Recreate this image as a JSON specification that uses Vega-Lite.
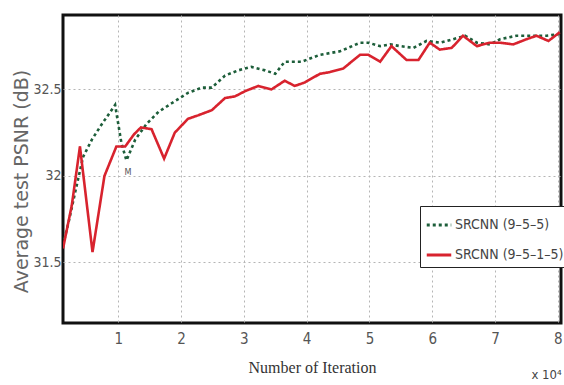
{
  "$schema": "https://vega.github.io/schema/vega-lite/v6.json",
  "width": 498,
  "height": 308,
  "autosize": {"type": "none"},
  "padding": {"left": 63, "top": 15, "right": 3, "bottom": 62},
  "background": "white",
  "config": {
    "view": {"stroke": "#111", "strokeWidth": 3},
    "legend": {
      "orient": "none",
      "legendX": 357,
      "legendY": 191,
      "strokeColor": "#222",
      "fillColor": "white",
      "padding": 5,
      "symbolType": "stroke",
      "symbolSize": 600,
      "symbolStrokeWidth": 3,
      "labelFont": "DejaVu Sans Condensed",
      "labelFontSize": 14,
      "labelColor": "#444",
      "labelOffset": 2,
      "rowPadding": 9,
      "labelLimit": 200
    }
  },
  "encoding": {
    "x": {
      "field": "x",
      "type": "quantitative",
      "scale": {"domain": [0.12, 8.05], "nice": false, "zero": false},
      "axis": {
        "title": "Number of Iteration",
        "values": [1, 2, 3, 4, 5, 6, 7, 8],
        "format": "d",
        "grid": true,
        "gridColor": "#b5b5b5",
        "gridDash": [2, 3],
        "gridWidth": 1,
        "ticks": false,
        "domain": false,
        "labelFont": "DejaVu Sans Condensed",
        "labelFontSize": 15,
        "labelColor": "#555",
        "labelPadding": 8,
        "titleFont": "Liberation Serif",
        "titleFontSize": 16,
        "titleFontWeight": "normal",
        "titleColor": "#333",
        "titleBaseline": "middle",
        "titleY": 44
      }
    },
    "y": {
      "field": "y",
      "type": "quantitative",
      "scale": {"domain": [31.15, 32.93], "nice": false, "zero": false},
      "axis": {
        "title": "Average test PSNR (dB)",
        "values": [31.5, 32, 32.5],
        "format": "~g",
        "grid": true,
        "gridColor": "#b5b5b5",
        "gridDash": [2, 3],
        "gridWidth": 1,
        "ticks": false,
        "domain": false,
        "labelFont": "DejaVu Sans Condensed",
        "labelFontSize": 14,
        "labelColor": "#555",
        "labelPadding": 2,
        "titleFont": "DejaVu Sans",
        "titleFontSize": 19,
        "titleFontWeight": "normal",
        "titleColor": "#666",
        "titleBaseline": "middle",
        "titleX": -42,
        "titleY": 166
      }
    }
  },
  "layer": [
    {
      "data": {
        "values": [
          {"series": "SRCNN (9–5–5)", "x": 0.12, "y": 31.6},
          {"series": "SRCNN (9–5–5)", "x": 0.22, "y": 31.75},
          {"series": "SRCNN (9–5–5)", "x": 0.31, "y": 31.9},
          {"series": "SRCNN (9–5–5)", "x": 0.44, "y": 32.11},
          {"series": "SRCNN (9–5–5)", "x": 0.58, "y": 32.21},
          {"series": "SRCNN (9–5–5)", "x": 0.74, "y": 32.3},
          {"series": "SRCNN (9–5–5)", "x": 0.95, "y": 32.41},
          {"series": "SRCNN (9–5–5)", "x": 1.05, "y": 32.19},
          {"series": "SRCNN (9–5–5)", "x": 1.13, "y": 32.09},
          {"series": "SRCNN (9–5–5)", "x": 1.27, "y": 32.21},
          {"series": "SRCNN (9–5–5)", "x": 1.45, "y": 32.3},
          {"series": "SRCNN (9–5–5)", "x": 1.64, "y": 32.37},
          {"series": "SRCNN (9–5–5)", "x": 1.85, "y": 32.42},
          {"series": "SRCNN (9–5–5)", "x": 2.11, "y": 32.48},
          {"series": "SRCNN (9–5–5)", "x": 2.33, "y": 32.51},
          {"series": "SRCNN (9–5–5)", "x": 2.49, "y": 32.51},
          {"series": "SRCNN (9–5–5)", "x": 2.7, "y": 32.58},
          {"series": "SRCNN (9–5–5)", "x": 2.91, "y": 32.61},
          {"series": "SRCNN (9–5–5)", "x": 3.12, "y": 32.63},
          {"series": "SRCNN (9–5–5)", "x": 3.34, "y": 32.61},
          {"series": "SRCNN (9–5–5)", "x": 3.5, "y": 32.59},
          {"series": "SRCNN (9–5–5)", "x": 3.65, "y": 32.66},
          {"series": "SRCNN (9–5–5)", "x": 3.92, "y": 32.66},
          {"series": "SRCNN (9–5–5)", "x": 4.21, "y": 32.7},
          {"series": "SRCNN (9–5–5)", "x": 4.53, "y": 32.72},
          {"series": "SRCNN (9–5–5)", "x": 4.85, "y": 32.77},
          {"series": "SRCNN (9–5–5)", "x": 4.98, "y": 32.77},
          {"series": "SRCNN (9–5–5)", "x": 5.17, "y": 32.75},
          {"series": "SRCNN (9–5–5)", "x": 5.33, "y": 32.76},
          {"series": "SRCNN (9–5–5)", "x": 5.49, "y": 32.75},
          {"series": "SRCNN (9–5–5)", "x": 5.7, "y": 32.74},
          {"series": "SRCNN (9–5–5)", "x": 5.91, "y": 32.78},
          {"series": "SRCNN (9–5–5)", "x": 6.12, "y": 32.77},
          {"series": "SRCNN (9–5–5)", "x": 6.33, "y": 32.79},
          {"series": "SRCNN (9–5–5)", "x": 6.52, "y": 32.81},
          {"series": "SRCNN (9–5–5)", "x": 6.71, "y": 32.77},
          {"series": "SRCNN (9–5–5)", "x": 6.92, "y": 32.76},
          {"series": "SRCNN (9–5–5)", "x": 7.08, "y": 32.79},
          {"series": "SRCNN (9–5–5)", "x": 7.34, "y": 32.81},
          {"series": "SRCNN (9–5–5)", "x": 7.61, "y": 32.81},
          {"series": "SRCNN (9–5–5)", "x": 7.82, "y": 32.81},
          {"series": "SRCNN (9–5–5)", "x": 8.03, "y": 32.82},
          {"series": "SRCNN (9–5–1–5)", "x": 0.12, "y": 31.58},
          {"series": "SRCNN (9–5–1–5)", "x": 0.26, "y": 31.83},
          {"series": "SRCNN (9–5–1–5)", "x": 0.39, "y": 32.17},
          {"series": "SRCNN (9–5–1–5)", "x": 0.59, "y": 31.56},
          {"series": "SRCNN (9–5–1–5)", "x": 0.78, "y": 32.0},
          {"series": "SRCNN (9–5–1–5)", "x": 0.97, "y": 32.17},
          {"series": "SRCNN (9–5–1–5)", "x": 1.11, "y": 32.17},
          {"series": "SRCNN (9–5–1–5)", "x": 1.25, "y": 32.24},
          {"series": "SRCNN (9–5–1–5)", "x": 1.36, "y": 32.28},
          {"series": "SRCNN (9–5–1–5)", "x": 1.53, "y": 32.27},
          {"series": "SRCNN (9–5–1–5)", "x": 1.73, "y": 32.1},
          {"series": "SRCNN (9–5–1–5)", "x": 1.9, "y": 32.25},
          {"series": "SRCNN (9–5–1–5)", "x": 2.11, "y": 32.33},
          {"series": "SRCNN (9–5–1–5)", "x": 2.27, "y": 32.35},
          {"series": "SRCNN (9–5–1–5)", "x": 2.49, "y": 32.38},
          {"series": "SRCNN (9–5–1–5)", "x": 2.7, "y": 32.45},
          {"series": "SRCNN (9–5–1–5)", "x": 2.86, "y": 32.46},
          {"series": "SRCNN (9–5–1–5)", "x": 3.02, "y": 32.49},
          {"series": "SRCNN (9–5–1–5)", "x": 3.23, "y": 32.52},
          {"series": "SRCNN (9–5–1–5)", "x": 3.44, "y": 32.5},
          {"series": "SRCNN (9–5–1–5)", "x": 3.65, "y": 32.55},
          {"series": "SRCNN (9–5–1–5)", "x": 3.81, "y": 32.52},
          {"series": "SRCNN (9–5–1–5)", "x": 3.97, "y": 32.54},
          {"series": "SRCNN (9–5–1–5)", "x": 4.21, "y": 32.59},
          {"series": "SRCNN (9–5–1–5)", "x": 4.37, "y": 32.6},
          {"series": "SRCNN (9–5–1–5)", "x": 4.58, "y": 32.62},
          {"series": "SRCNN (9–5–1–5)", "x": 4.85, "y": 32.7},
          {"series": "SRCNN (9–5–1–5)", "x": 4.98, "y": 32.7},
          {"series": "SRCNN (9–5–1–5)", "x": 5.17, "y": 32.66},
          {"series": "SRCNN (9–5–1–5)", "x": 5.35, "y": 32.75},
          {"series": "SRCNN (9–5–1–5)", "x": 5.59, "y": 32.67},
          {"series": "SRCNN (9–5–1–5)", "x": 5.78, "y": 32.67},
          {"series": "SRCNN (9–5–1–5)", "x": 5.96, "y": 32.77},
          {"series": "SRCNN (9–5–1–5)", "x": 6.12, "y": 32.73},
          {"series": "SRCNN (9–5–1–5)", "x": 6.31, "y": 32.74},
          {"series": "SRCNN (9–5–1–5)", "x": 6.49, "y": 32.81},
          {"series": "SRCNN (9–5–1–5)", "x": 6.71, "y": 32.75},
          {"series": "SRCNN (9–5–1–5)", "x": 6.92, "y": 32.77},
          {"series": "SRCNN (9–5–1–5)", "x": 7.08, "y": 32.77},
          {"series": "SRCNN (9–5–1–5)", "x": 7.29, "y": 32.76},
          {"series": "SRCNN (9–5–1–5)", "x": 7.5, "y": 32.79},
          {"series": "SRCNN (9–5–1–5)", "x": 7.66, "y": 32.81},
          {"series": "SRCNN (9–5–1–5)", "x": 7.85, "y": 32.78},
          {"series": "SRCNN (9–5–1–5)", "x": 8.03, "y": 32.83}
        ]
      },
      "mark": {"type": "line", "strokeWidth": 2.6, "strokeCap": "butt", "clip": true},
      "encoding": {
        "color": {
          "field": "series",
          "type": "nominal",
          "title": null,
          "scale": {"domain": ["SRCNN (9–5–5)", "SRCNN (9–5–1–5)"], "range": ["#1d5e3a", "#d8232e"]}
        },
        "strokeDash": {
          "field": "series",
          "type": "nominal",
          "title": null,
          "scale": {"domain": ["SRCNN (9–5–5)", "SRCNN (9–5–1–5)"], "range": [[3, 3], [1, 0]]}
        }
      }
    },
    {
      "data": {"values": [{"x": 1.155, "y": 32.02, "label": "M"}]},
      "mark": {"type": "text", "fontSize": 9, "font": "DejaVu Sans Condensed", "color": "#555", "baseline": "middle", "align": "center"},
      "encoding": {"text": {"field": "label"}}
    },
    {
      "data": {"values": [{"x": 7.58, "y": 30.85, "label": "x 10⁴"}]},
      "mark": {"type": "text", "fontSize": 13, "font": "DejaVu Sans Condensed", "color": "#444", "baseline": "middle", "align": "left"},
      "encoding": {"text": {"field": "label"}}
    }
  ]
}
